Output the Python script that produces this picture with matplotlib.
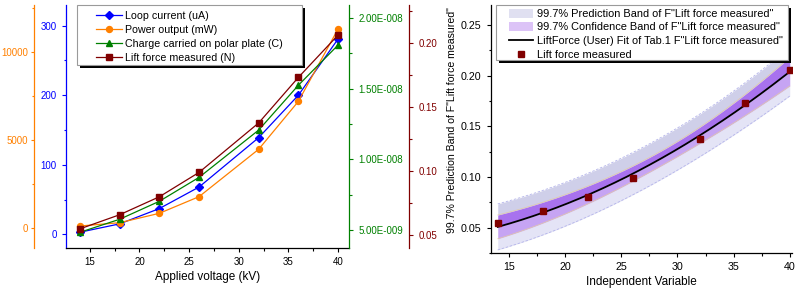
import numpy as np
import matplotlib
matplotlib.use("Agg")
import matplotlib.pyplot as plt
from matplotlib.ticker import MultipleLocator, FuncFormatter
from matplotlib.patches import Rectangle, Patch
from matplotlib.lines import Line2D

plt.rcParams['font.family'] = ['Liberation Sans', 'DejaVu Sans']

# ---------------- data ----------------
voltage = [14, 18, 22, 26, 32, 36, 40]                       # kV
loop_current = [3, 15, 37, 68, 139, 200, 281]                # uA
power_output = [97, 285, 820, 1770, 4470, 7200, 11330]       # mW
charge = [4.84e-9, 5.76e-9, 7.03e-9, 8.72e-9, 1.206e-8, 1.523e-8, 1.807e-8]  # C
lift_force = [0.055, 0.066, 0.080, 0.099, 0.1375, 0.173, 0.206]              # N

labels_left = ["Loop current (uA)", "Power output (mW)",
               "Charge carried on polar plate (C)", "Lift force measured (N)"]
labels_right = ['99.7% Prediction Band of F"Lift force measured"',
                '99.7% Confidence Band of F"Lift force measured"',
                'LiftForce (User) Fit of Tab.1 F"Lift force measured"',
                'Lift force measured']
T997 = 5.45   # two-sided 99.7% Student t quantile, 5 degrees of freedom

BLUE = '#0000ff'
ORANGE = '#ff8000'
GREEN = '#008000'
WINE = '#800000'

W, H = 802, 290
fig = plt.figure(figsize=(W / 100, H / 100), dpi=100)

def frac(x0, y_top, x1, y_bot):
    return [x0 / W, 1 - y_bot / H, (x1 - x0) / W, (y_bot - y_top) / H]

TICK = dict(direction='out', width=0.8)

# ---------------- left chart ----------------
ax = fig.add_axes(frac(66, 5, 349, 248))
ax_or = ax.twinx()
ax_gr = ax.twinx()
ax_rd = ax.twinx()

ax.set_xlim(12.6, 41.1)
ax.set_ylim(-19.7, 329.8)
ax_or.set_ylim(-1157, 12697)
ax_gr.set_ylim(3.73e-9, 2.09e-8)
ax_rd.set_ylim(0.0401, 0.2294)

for a in (ax, ax_or, ax_gr, ax_rd):
    for s in a.spines.values():
        s.set_visible(False)
        s.set_linewidth(0.9)
ax.spines['left'].set_visible(True)
ax.spines['left'].set_color(BLUE)
ax.spines['bottom'].set_visible(True)
ax_or.spines['left'].set_visible(True)
ax_or.spines['left'].set_color(ORANGE)
ax_or.spines['left'].set_position(('axes', -32 / 283))
ax_or.yaxis.set_ticks_position('left')
ax_gr.spines['right'].set_visible(True)
ax_gr.spines['right'].set_color(GREEN)
ax_rd.spines['right'].set_visible(True)
ax_rd.spines['right'].set_color(WINE)
ax_rd.spines['right'].set_position(('axes', 343 / 283))

ax.xaxis.set_major_locator(MultipleLocator(5))
ax.xaxis.set_minor_locator(MultipleLocator(2.5))
ax.yaxis.set_major_locator(MultipleLocator(100))
ax.yaxis.set_minor_locator(MultipleLocator(50))
ax_or.yaxis.set_major_locator(MultipleLocator(5000))
ax_or.yaxis.set_minor_locator(MultipleLocator(2500))
ax_gr.yaxis.set_major_locator(MultipleLocator(5e-9))
ax_gr.yaxis.set_minor_locator(MultipleLocator(2.5e-9))
ax_rd.yaxis.set_major_locator(MultipleLocator(0.05))
ax_rd.yaxis.set_minor_locator(MultipleLocator(0.025))

def sci_fmt(v, pos):
    m, e = f"{v:.2E}".split('E')
    return f"{m}E{int(e):+04d}".replace('+', '')
ax_gr.yaxis.set_major_formatter(FuncFormatter(sci_fmt))
ax_rd.yaxis.set_major_formatter(FuncFormatter(lambda v, p: f"{v:.2f}"))

ax.tick_params(axis='x', which='both', labelsize=7, **TICK)
for a, c in ((ax, BLUE), (ax_or, ORANGE), (ax_gr, GREEN), (ax_rd, WINE)):
    a.tick_params(axis='y', which='both', colors=c, labelsize=7, **TICK)
    a.tick_params(axis='y', which='major', length=3.2)
    a.tick_params(axis='y', which='minor', length=1.8)
ax_or.tick_params(axis='y', which='major', length=2.5, pad=2.0)
ax.tick_params(axis='x', which='major', length=3.2)
ax.tick_params(axis='x', which='minor', length=1.8)

ax.set_xlabel("Applied voltage (kV)", fontsize=8.5, labelpad=3)

LW = 0.9
l1, = ax.plot(voltage, loop_current, color=BLUE, lw=LW, marker='D', ms=3.8)
l2, = ax_or.plot(voltage, power_output, color=ORANGE, lw=LW, marker='o', ms=4.3)
l3, = ax_gr.plot(voltage, charge, color=GREEN, lw=LW, marker='^', ms=4.6)
l4, = ax_rd.plot(voltage, lift_force, color=WINE, lw=LW, marker='s', ms=4.0)

# legend box (Origin style with black drop shadow)
def legend_box(host, x0, y0, x1, y1, ax_px):
    ax_x0, ax_top, ax_x1, ax_bot = ax_px
    fx = lambda x: (x - ax_x0) / (ax_x1 - ax_x0)
    fy = lambda y: (ax_bot - y) / (ax_bot - ax_top)
    sh = Rectangle((fx(x0 + 3), fy(y1 + 3)), fx(x1) - fx(x0), fy(y0) - fy(y1),
                   transform=host.transAxes, facecolor='black', edgecolor='black',
                   lw=0, clip_on=False, zorder=8)
    bx = Rectangle((fx(x0), fy(y1)), fx(x1) - fx(x0), fy(y0) - fy(y1),
                   transform=host.transAxes, facecolor='white', edgecolor='#9a9a9a',
                   lw=0.8, clip_on=False, zorder=9)
    host.add_patch(sh)
    host.add_patch(bx)
    return fx, fy

LPX = (66, 5, 349, 248)
fx, fy = legend_box(ax_rd, 77, 5, 302, 65, LPX)
leg = ax_rd.legend([l1, l2, l3, l4], labels_left, loc='upper left',
                   bbox_to_anchor=(fx(96), fy(11)), bbox_transform=ax_rd.transAxes,
                   frameon=False, borderpad=0, borderaxespad=0, fontsize=7.7,
                   handlelength=2.4, handletextpad=0.35, labelspacing=0.37)
leg.set_zorder(10)

# ---------------- right chart ----------------
RPX = (491, 5, 792, 253)
ar = fig.add_axes(frac(*RPX))
ar.set_xlim(13.4, 40.2)
ar.set_ylim(0.025, 0.2697)
for s in ('top', 'right'):
    ar.spines[s].set_visible(False)
for s in ('left', 'bottom'):
    ar.spines[s].set_linewidth(0.9)
ar.xaxis.set_major_locator(MultipleLocator(5))
ar.xaxis.set_minor_locator(MultipleLocator(2.5))
ar.yaxis.set_major_locator(MultipleLocator(0.05))
ar.yaxis.set_minor_locator(MultipleLocator(0.025))
ar.yaxis.set_major_formatter(FuncFormatter(lambda v, p: f"{v:.2f}"))
ar.tick_params(which='both', labelsize=7.7, **TICK)
ar.tick_params(which='major', length=3.2)
ar.tick_params(which='minor', length=1.8)

# least-squares fit of F = a*V^2 + c and its 99.7% bands
xv = np.asarray(voltage, float)
yv = np.asarray(lift_force, float)
X = np.column_stack([xv ** 2, np.ones_like(xv)])
beta, *_ = np.linalg.lstsq(X, yv, rcond=None)
res = yv - X @ beta
s2 = res @ res / (len(xv) - X.shape[1])
cov = np.linalg.inv(X.T @ X)
xs = np.linspace(xv.min(), xv.max(), 300)
Xs = np.column_stack([xs ** 2, np.ones_like(xs)])
fit = Xs @ beta
h = np.einsum('ij,jk,ik->i', Xs, cov, Xs)
conf = T997 * np.sqrt(s2 * h)
pred = T997 * np.sqrt(s2 * (1 + h))

P_UP, P_LO = '#cfcfe9', '#e4e4f6'
C_UP, C_LO = '#a872ee', '#c6a4f3'
ar.fill_between(xs, fit + conf, fit + pred, color=P_UP, lw=0, zorder=1)
ar.fill_between(xs, fit - pred, fit - conf, color=P_LO, lw=0, zorder=1)
ar.fill_between(xs, fit, fit + conf, color=C_UP, lw=0, zorder=1)
ar.fill_between(xs, fit - conf, fit, color=C_LO, lw=0, zorder=1)
for sgn in (1, -1):
    ar.plot(xs, fit + sgn * pred, color='#b4b4ea', lw=0.6, ls=(0, (3, 2)), zorder=2)
    ar.plot(xs, fit + sgn * conf, color='#e2caa6', lw=0.5, zorder=2)
lf, = ar.plot(xs, fit, color='black', lw=1.3, zorder=3)
pts, = ar.plot(voltage, lift_force, ls='none', marker='s', ms=4.3, color=WINE, zorder=4)

ar.set_xlabel("Independent Variable", fontsize=8.5, labelpad=3)
ar.set_ylabel(labels_right[0], fontsize=7.6)
ar.yaxis.set_label_coords(-0.112, 0.535)

fx2, fy2 = legend_box(ar, 496, 5, 788, 60, RPX)
hp = [Patch(facecolor='#e0e0f1', edgecolor='none'),
      Patch(facecolor='#dcc3f7', edgecolor='none'),
      Line2D([], [], color='black', lw=1.3),
      Line2D([], [], ls='none', marker='s', ms=4.3, color=WINE)]
leg2 = ar.legend(hp, labels_right, loc='upper left',
                 bbox_to_anchor=(fx2(509), fy2(8.5)), bbox_transform=ar.transAxes,
                 frameon=False, borderpad=0, borderaxespad=0, fontsize=7.9,
                 handlelength=2.2, handleheight=0.9, handletextpad=0.35, labelspacing=0.3)
leg2.set_zorder(10)

fig.savefig("out.png", dpi=100)
